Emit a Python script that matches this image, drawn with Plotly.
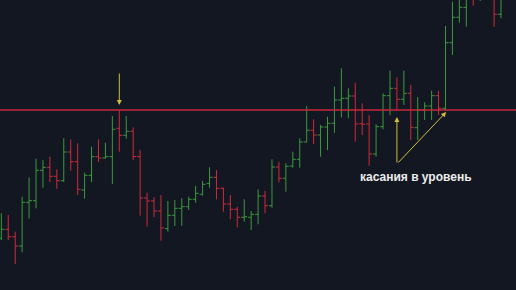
import plotly.graph_objects as go

# OHLC values (price units, no visible axis in the reference)
bar_index = list(range(73))
open_ = [51.7, 60.7, 53.3, 44, 87.7, 89.3, 119.7, 122.7, 113.7, 109.3,
         138, 128.3, 100, 114.7, 133.3, 132, 133.3, 161.7, 154.7, 158.7,
         133.3, 92, 89, 79, 61.3, 74.7, 81.7, 83.3, 90.7, 95.7,
         106.7, 112.7, 101.7, 86, 80.7, 72.7, 72.7, 75.7, 94, 84.3,
         123, 111.7, 124, 130.7, 148, 159.7, 155, 163, 166.7, 190,
         191.7, 194, 166.3, 166, 136, 163.3, 194.3, 201.7, 190.7, 196.7,
         162.3, 180, 184, 194.3, 181.7, 247.3, 272.7, 282.7, 300, 292,
         298, 295, 275.7]
high = [76.7, 75, 58.3, 93.3, 112.7, 131.3, 130, 133.3, 120.7, 151.7,
        150.7, 146.7, 117.3, 143.3, 150.7, 147.3, 174, 179.3, 174, 162.7,
        140, 97.3, 92.7, 95, 89, 90, 91.7, 93.3, 104, 109,
        122.7, 120, 102.3, 95, 83.3, 90.7, 79, 100.7, 99, 130.7,
        128.3, 126.7, 138.3, 151.7, 184, 170.7, 165, 173.3, 203.3, 221.7,
        201.7, 207.3, 186.7, 175, 165.7, 196.7, 219.3, 212.7, 219.3, 205,
        193, 187.7, 199.3, 199.3, 264, 288.3, 298, 305, 310, 310,
        312, 305, 300]
low = [50, 50, 26, 37.7, 71.3, 81.7, 102.3, 108, 101.3, 108,
       119.3, 95, 91.3, 108, 128, 131.3, 106, 138.3, 151.3, 130,
       74.3, 63.3, 72.7, 49.3, 58.3, 64, 64.3, 80, 87.3, 94.3,
       102.3, 90.7, 78.3, 70.7, 62.7, 68.3, 60, 65.7, 76.7, 82.3,
       107.7, 98.3, 122.3, 122.3, 147.7, 146, 133.3, 140, 157.3, 172.7,
       171.7, 148.3, 155, 124.3, 133.3, 160.7, 175, 180, 185, 150,
       150, 170, 170, 175, 180, 235, 267.3, 263.3, 284.3, 289,
       292, 263.3, 271.7]
close = [60.7, 53.3, 44, 87.7, 89.3, 119.7, 122.7, 113.7, 109.3, 138,
         128.3, 100.7, 114.7, 133.3, 132, 133.3, 160.7, 154.7, 158.7, 133.3,
         92, 89, 79, 62, 74.7, 81.7, 83.3, 90.7, 96.7, 105.7,
         112.7, 101.7, 86, 80.7, 72.7, 73.3, 75.7, 94, 84.3, 123,
         111.7, 123.7, 130.7, 148, 159.7, 155, 163, 166.7, 190, 191.7,
         194, 166, 165.7, 136, 163.3, 194.3, 201.7, 190.7, 196.7, 162.7,
         180, 184, 194.3, 181.7, 247.3, 272.7, 282.7, 294, 292, 298,
         296, 275.7, 293]

level = 180
label_text = "касания в уровень"

fig = go.Figure()
fig.add_trace(go.Ohlc(
    x=bar_index, open=open_, high=high, low=low, close=close,
    increasing=dict(line=dict(color="#3a9a3e", width=1)),
    decreasing=dict(line=dict(color="#cf2a3c", width=1)),
    tickwidth=0.43, hoverinfo="skip", showlegend=False,
))

fig.add_shape(type="line", xref="paper", x0=0, x1=1, yref="y", y0=level, y1=level,
              line=dict(color="#c8283a", width=1.5))

arrow_color = "#d2bf3c"
# arrow pointing down to first touch
fig.add_annotation(x=17, y=185, ax=17, ay=218, xref="x", yref="y", axref="x", ayref="y",
                   showarrow=True, arrowhead=2, arrowsize=1, arrowwidth=1,
                   arrowcolor=arrow_color, text="")
# arrows pointing up to later touches
fig.add_annotation(x=57, y=173, ax=57, ay=126, xref="x", yref="y", axref="x", ayref="y",
                   showarrow=True, arrowhead=2, arrowsize=1, arrowwidth=1,
                   arrowcolor=arrow_color, text="")
fig.add_annotation(x=64.1, y=178, ax=57, ay=126, xref="x", yref="y", axref="x", ayref="y",
                   showarrow=True, arrowhead=2, arrowsize=1, arrowwidth=1,
                   arrowcolor=arrow_color, text="")
fig.add_annotation(x=59.7, y=113, xref="x", yref="y", showarrow=False,
                   text="<b>" + label_text + "</b>",
                   font=dict(family="Liberation Sans, Arial, sans-serif", size=12, color="#ececec"))

fig.update_layout(
    width=516, height=290,
    margin=dict(l=0, r=0, t=0, b=0),
    paper_bgcolor="#131722", plot_bgcolor="#131722",
    xaxis=dict(visible=False, range=[-0.19, 74.16], rangeslider=dict(visible=False)),
    yaxis=dict(visible=False, range=[0, 290]),
    showlegend=False,
)

fig.write_html("out.html")
